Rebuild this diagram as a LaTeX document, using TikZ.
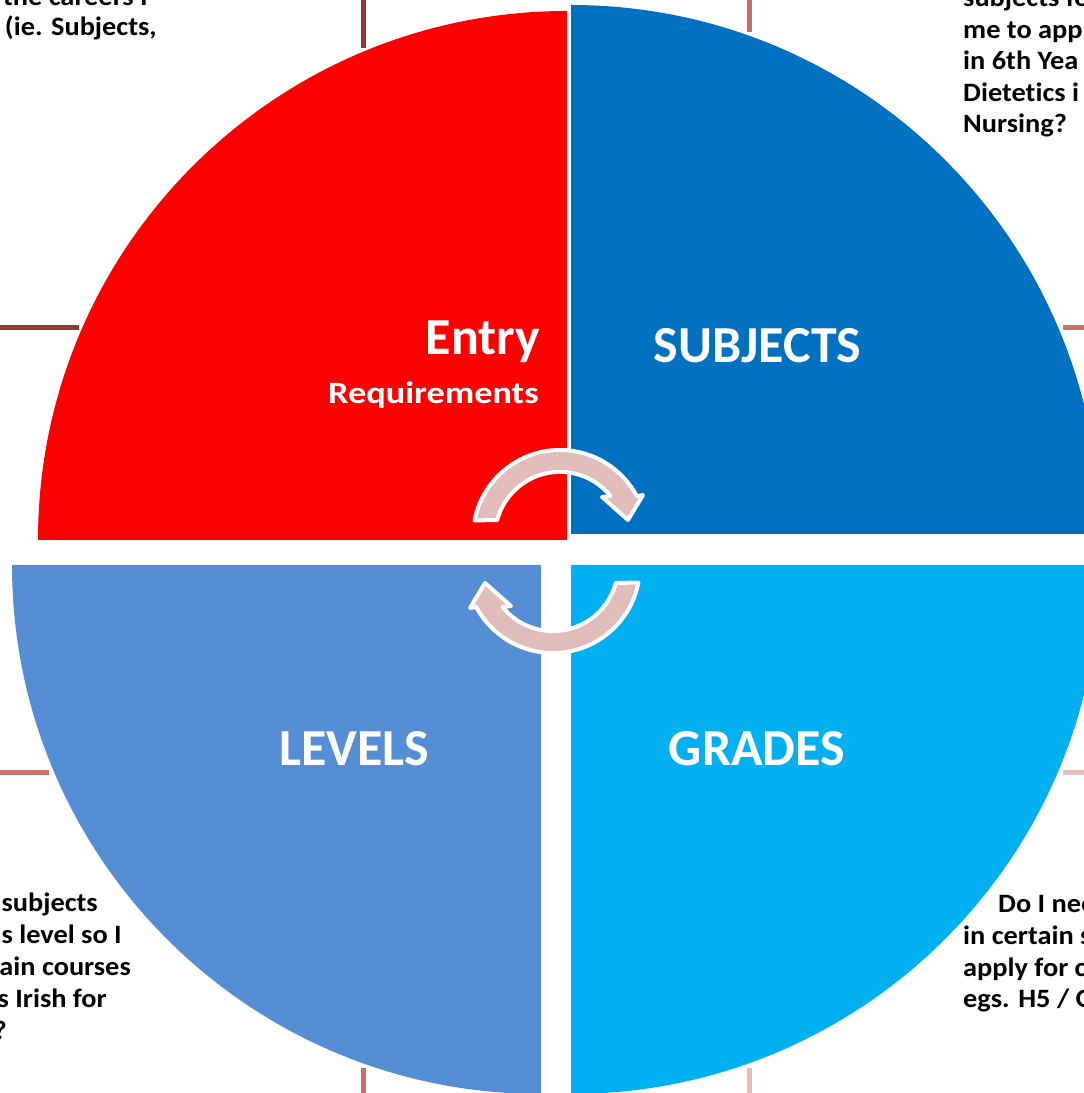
\documentclass[tikz,border=0pt]{standalone}
\usepackage{fontspec}
\setmainfont{Carlito}
\newfontfamily\notefont[FakeStretch=1.07, Ligatures=NoCommon]{Carlito}
\newfontfamily\reqfont[FakeStretch=1.17]{Carlito}
\definecolor{entryred}{HTML}{FF0000}
\definecolor{subjblue}{HTML}{0070C0}
\definecolor{gradeblue}{HTML}{00B0F0}
\definecolor{levelblue}{HTML}{558ED5}
\definecolor{cyclepink}{HTML}{E0BDBB}
\definecolor{stubdark}{HTML}{953735}
\definecolor{stubmid}{HTML}{C8706C}
\definecolor{stublight}{HTML}{E2BFBE}

\tikzset{
    stub/.style={line width=5pt},
    cyc/.style={fill=cyclepink, draw=white, line width=4pt, line join=round},
    qlabel/.style={text=white, inner sep=0pt, font=\bfseries\fontsize{52}{52}\selectfont},
    qtext/.style={text=black, inner sep=0pt, font=\notefont\bfseries\fontsize{26.5}{31.5}\selectfont}
}

\begin{document}
\begin{tikzpicture}[x=1pt,y=1pt]
    \clip (0,0) rectangle (1084,1093);
    % stubs of the connectors
    \draw[stub, stubdark] (363.5,1093) -- (363.5,1045);
    \draw[stub, stubmid] (749,1093) -- (749,1061);
    \draw[stub, stubdark] (0,765) -- (79,765);
    \draw[stub, stubmid] (1063,765) -- (1084,765);
    \draw[stub, stubmid] (0,320.5) -- (49,320.5);
    \draw[stub, stublight] (1063,320.5) -- (1084,320.5);
    \draw[stub, stubmid] (363.5,25) -- (363.5,0);
    \draw[stub, stublight] (749,25) -- (749,0);
    % the four quarters
    \fill[entryred] (567,553) -- ++(90:529) arc[start angle=90, end angle=180, radius=529] -- cycle;
    \fill[subjblue] (571,559) -- ++(0:529) arc[start angle=0, end angle=90, radius=529] -- cycle;
    \fill[gradeblue] (571,528) -- ++(270:529) arc[start angle=270, end angle=360, radius=529] -- cycle;
    \fill[levelblue] (541,528) -- ++(180:529) arc[start angle=180, end angle=270, radius=529] -- cycle;
    % cycle arrows
    \filldraw[cyc] (474.6,572.6) arc[start angle=169, end angle=28, radius=87]
        -- (643,598) -- (628,573) -- (602,596) -- (610.5,597)
        arc[start angle=39, end angle=165, radius=65] -- cycle;
    \filldraw[cyc, rotate around={180:(556.5,541.5)}] (474.6,572.6) arc[start angle=169, end angle=28, radius=87]
        -- (643,598) -- (628,573) -- (602,596) -- (610.5,597)
        arc[start angle=39, end angle=165, radius=65] -- cycle;
    % labels
    \node[qlabel, anchor=base east] (entry) at (540,738) {Entry};
    \node[qlabel, anchor=base east, font=\reqfont\bfseries\fontsize{31}{32}\selectfont] (req) at (539,689) {Requirements};
    \node[qlabel, anchor=base] (subj) at (757.5,730) {SUBJECTS};
    \node[qlabel, anchor=base] (lev) at (354.5,327) {LEVELS};
    \node[qlabel, anchor=base] (grad) at (757,327) {GRADES};
    % questions
    \node[qtext, anchor=base east] (tl1) at (148,1087) {the careers I};
    \node[qtext, anchor=base east] (tl2) at (157,1057) {(ie. Subjects,};
    \node[qtext, anchor=base west] (tr1) at (963,1086) {subjects fo};
    \node[qtext, anchor=base west] (tr2) at (963,1054.5) {me to app};
    \node[qtext, anchor=base west] (tr3) at (963,1023) {in 6th Yea};
    \node[qtext, anchor=base west] (tr4) at (963,991.5) {Dietetics i};
    \node[qtext, anchor=base west] (tr5) at (963,960) {Nursing?};
    \node[qtext, anchor=base east] (bl1) at (98,181) {subjects};
    \node[qtext, anchor=base east] (bl2) at (122,149) {s level so I};
    \node[qtext, anchor=base east] (bl3) at (131,117) {ain courses};
    \node[qtext, anchor=base east] (bl4) at (107,85) {s Irish for};
    \node[qtext, anchor=base east] (bl5) at (7,53) {?};
    \node[qtext, anchor=base west] (br1) at (998,180) {Do I nee};
    \node[qtext, anchor=base west] (br2) at (963,148) {in certain s};
    \node[qtext, anchor=base west] (br3) at (963,116) {apply for c};
    \node[qtext, anchor=base west] (br4) at (963,85) {egs. H5 / O};
\end{tikzpicture}
\end{document}
